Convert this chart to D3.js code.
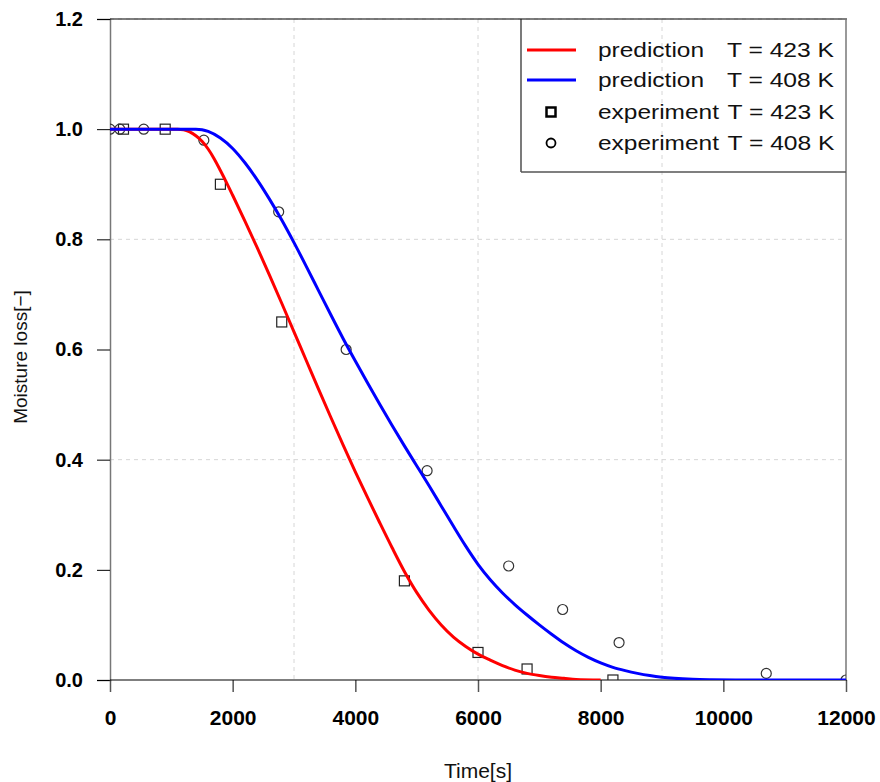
<!DOCTYPE html>
<html><head><meta charset="utf-8">
<script src="https://cdn.jsdelivr.net/npm/d3@7"></script>
<style>body{margin:0;background:#fff}svg{display:block}</style>
</head><body>
<div id="chart"></div>
<script>
// ---- data ----
const xTicks = [0, 2000, 4000, 6000, 8000, 10000, 12000];
const yTicks = [0.0, 0.2, 0.4, 0.6, 0.8, 1.0, 1.2];
const xGrid = [3000, 6000, 9000];
const yGrid = [0.4, 0.8, 1.2];

const pred423T = [0, 1100, 1200, 1300, 1400, 1500, 1600, 1700, 1800, 1900, 2000, 2200, 2400, 2600, 2800, 3000, 3200, 3400, 3600, 3800, 4000, 4200, 4400, 4600, 4800, 5000, 5200, 5400, 5600, 5800, 6000, 6200, 6400, 6600, 6800, 7000, 7200, 7400, 7600, 8000];
const pred423V = [1.0, 1.0, 0.999, 0.995, 0.988, 0.978, 0.964, 0.946, 0.925, 0.903, 0.880, 0.833, 0.785, 0.735, 0.684, 0.632, 0.580, 0.528, 0.477, 0.427, 0.378, 0.331, 0.285, 0.240, 0.197, 0.159, 0.127, 0.100, 0.078, 0.061, 0.047, 0.036, 0.026, 0.018, 0.012, 0.008, 0.005, 0.003, 0.001, 0.0];

const pred408T = [0, 1400, 1500, 1600, 1800, 2000, 2200, 2400, 2600, 2800, 3000, 3200, 3400, 3600, 3800, 4000, 4200, 4400, 4600, 4800, 5000, 5200, 5400, 5600, 5800, 6000, 6200, 6400, 6600, 6800, 7000, 7200, 7400, 7600, 7800, 8000, 8200, 8400, 8600, 8800, 9000, 9200, 9500, 9800, 10200, 12000];
const pred408V = [1.0, 1.0, 0.999, 0.996, 0.984, 0.965, 0.939, 0.908, 0.873, 0.835, 0.794, 0.751, 0.707, 0.663, 0.620, 0.579, 0.539, 0.500, 0.462, 0.425, 0.389, 0.353, 0.316, 0.279, 0.243, 0.210, 0.182, 0.158, 0.137, 0.118, 0.100, 0.083, 0.067, 0.053, 0.041, 0.031, 0.023, 0.017, 0.012, 0.008, 0.005, 0.003, 0.0012, 0.0004, 0.0, 0.0];

const exp423T = [220, 900, 1800, 2800, 4800, 6000, 6800, 8200];
const exp423V = [1.0, 1.0, 0.90, 0.65, 0.18, 0.05, 0.02, 0.0];

const exp408T = [0, 160, 550, 1530, 2750, 3850, 5170, 6500, 7380, 8300, 10700, 12000];
const exp408V = [1.0, 1.0, 1.0, 0.98, 0.85, 0.60, 0.38, 0.207, 0.128, 0.068, 0.012, 0.0];

const legendItems = [
  {a: "prediction", b: "T = 423 K"},
  {a: "prediction", b: "T = 408 K"},
  {a: "experiment", b: "T = 423 K"},
  {a: "experiment", b: "T = 408 K"}
];

// ---- layout ----
const W = 880, H = 782;
const L = 110, R = 846, T = 19, B = 680;
const svg = d3.select("#chart").append("svg").attr("width", W).attr("height", H);
const x = d3.scaleLinear().domain([0, 12000]).range([L, R]);
const y = d3.scaleLinear().domain([0, 1.2]).range([B, T]);

svg.append("defs").append("clipPath").attr("id", "plotclip")
  .append("rect").attr("x", L).attr("y", T).attr("width", R - L).attr("height", B - T);

// grid
const grid = svg.append("g");
grid.selectAll(".gx").data(xGrid).enter().append("line")
  .attr("x1", d => x(d)).attr("x2", d => x(d)).attr("y1", T).attr("y2", B)
  .attr("stroke", "#d6d6d6").attr("stroke-width", 1).attr("stroke-dasharray", "4,4");
grid.selectAll(".gy").data(yGrid).enter().append("line")
  .attr("x1", L).attr("x2", R).attr("y1", d => y(d)).attr("y2", d => y(d))
  .attr("stroke", "#d6d6d6").attr("stroke-width", 1).attr("stroke-dasharray", "4,4");

// axes
const yAxis = d3.axisLeft(y).tickValues(yTicks).tickFormat(d3.format(".1f")).tickSize(13).tickPadding(14);
const gy = svg.append("g").attr("transform", `translate(${L},0)`).call(yAxis);
gy.select(".domain").attr("stroke", "#777").attr("stroke-width", 1.5);
gy.selectAll(".tick line").attr("stroke", "#000");
gy.selectAll(".tick text").attr("font-family", "Liberation Sans, Arial, sans-serif")
  .attr("font-size", 20).attr("font-weight", "bold").attr("fill", "#000");

const xAxis = d3.axisBottom(x).tickValues(xTicks).tickFormat(d3.format("d")).tickSize(12).tickPadding(18);
const gx = svg.append("g").attr("transform", `translate(0,${B})`).call(xAxis);
gx.select(".domain").remove();
gx.selectAll(".tick line").attr("stroke", "#555").attr("stroke-width", 1.5);
gx.selectAll(".tick text").attr("font-family", "Liberation Sans, Arial, sans-serif")
  .attr("font-size", 21).attr("font-weight", "bold").attr("fill", "#000");

// frame lines
svg.append("line").attr("x1", L).attr("x2", R + 1).attr("y1", B).attr("y2", B).attr("stroke", "#000").attr("stroke-width", 1.2);
svg.append("line").attr("x1", L).attr("x2", R + 1).attr("y1", T).attr("y2", T).attr("stroke", "#000").attr("stroke-width", 1.2);
svg.append("line").attr("x1", R).attr("x2", R).attr("y1", T).attr("y2", B).attr("stroke", "#777").attr("stroke-width", 1.5);

// markers
const plot = svg.append("g").attr("clip-path", "url(#plotclip)");
const sq = 10;
plot.selectAll(".sq").data(exp423T.map((t, i) => [t, exp423V[i]])).enter().append("rect")
  .attr("x", d => x(d[0]) - sq / 2).attr("y", d => y(d[1]) - sq / 2)
  .attr("width", sq).attr("height", sq)
  .attr("fill", "none").attr("stroke", "#222").attr("stroke-width", 1.2);
plot.selectAll(".ci").data(exp408T.map((t, i) => [t, exp408V[i]])).enter().append("circle")
  .attr("cx", d => x(d[0])).attr("cy", d => y(d[1])).attr("r", 5)
  .attr("fill", "none").attr("stroke", "#333").attr("stroke-width", 1.2);

// lines
const line = d3.line().x(d => x(d[0])).y(d => y(d[1])).curve(d3.curveMonotoneX);
plot.append("path").datum(pred423T.map((t, i) => [t, pred423V[i]]))
  .attr("d", line).attr("fill", "none").attr("stroke", "#ff0000").attr("stroke-width", 3);
plot.append("path").datum(pred408T.map((t, i) => [t, pred408V[i]]))
  .attr("d", line).attr("fill", "none").attr("stroke", "#0000ff").attr("stroke-width", 3);

// legend
const lg = svg.append("g");
lg.append("line").attr("x1", 521).attr("x2", 521).attr("y1", T).attr("y2", 172).attr("stroke", "#222").attr("stroke-width", 1.2);
lg.append("line").attr("x1", 521).attr("x2", R).attr("y1", 172).attr("y2", 172).attr("stroke", "#555").attr("stroke-width", 1.5);
const rowY = [50, 80, 112, 143];
const colors = ["#ff0000", "#0000ff"];
legendItems.forEach((it, i) => {
  const yy = rowY[i];
  if (i < 2) {
    lg.append("line").attr("x1", 527).attr("x2", 576).attr("y1", yy).attr("y2", yy)
      .attr("stroke", colors[i]).attr("stroke-width", 3);
  } else if (i === 2) {
    lg.append("rect").attr("x", 551 - 4.5).attr("y", yy - 4.5).attr("width", 9).attr("height", 9)
      .attr("fill", "none").attr("stroke", "#000").attr("stroke-width", 2.5);
  } else {
    lg.append("circle").attr("cx", 551).attr("cy", yy).attr("r", 4.5)
      .attr("fill", "none").attr("stroke", "#000").attr("stroke-width", 1.8);
  }
  lg.append("text").attr("x", 598).attr("y", yy + 7).text(it.a)
    .attr("font-family", "Liberation Sans, Arial, sans-serif").attr("font-size", 20).attr("fill", "#111")
    .attr("textLength", i < 2 ? 106 : 121).attr("lengthAdjust", "spacingAndGlyphs");
  lg.append("text").attr("x", i < 2 ? 727 : 727.5).attr("y", yy + 7).text(it.b)
    .attr("font-family", "Liberation Sans, Arial, sans-serif").attr("font-size", 20).attr("fill", "#111")
    .attr("textLength", 107).attr("lengthAdjust", "spacingAndGlyphs");
});

// axis titles
svg.append("text").attr("x", 478).attr("y", 778).attr("text-anchor", "middle")
  .attr("font-family", "Liberation Sans, Arial, sans-serif").attr("font-size", 21).attr("fill", "#111")
  .text("Time[s]");
svg.append("text").attr("transform", "translate(27,357) rotate(-90)").attr("text-anchor", "middle")
  .attr("font-family", "Liberation Sans, Arial, sans-serif").attr("font-size", 19).attr("fill", "#111")
  .text("Moisture loss[−]");
</script>
</body></html>
